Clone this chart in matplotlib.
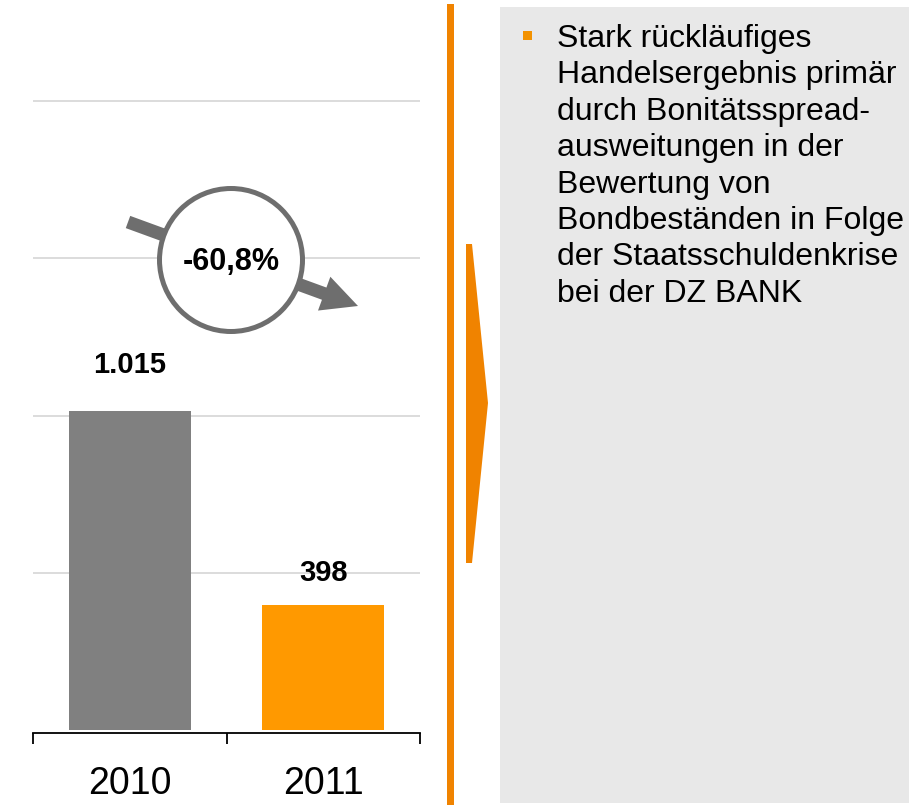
import matplotlib.pyplot as plt
from matplotlib.patches import Rectangle, Circle, Polygon, FancyArrow

plt.rcParams['font.family'] = ['Liberation Sans', 'DejaVu Sans']

# Handelsergebnis in Mio. EUR
years = ['2010', '2011']
values = [1015, 398]
bar_colors = ['#808080', '#ff9900']
label_pad = [38, 24]  # px between bar top and value label
bullet_lines = [
    'Stark rückläufiges',
    'Handelsergebnis primär',
    'durch Bonitätsspread-',
    'ausweitungen in der',
    'Bewertung von',
    'Bondbeständen in Folge',
    'der Staatsschuldenkrise',
    'bei der DZ BANK',
]

W, H = 909, 805
fig = plt.figure(figsize=(W / 100, H / 100), dpi=100)

# bar chart, placed in pixel units
px_per_unit = 0.3144
ymax = 2300
ax_left, ax_right, ax_bottom = 33, 420, 730
ax_h = ymax * px_per_unit
ax = fig.add_axes([ax_left / W, 1 - ax_bottom / H, (ax_right - ax_left) / W, ax_h / H])
x = range(len(years))
ax.bar(x, values, width=0.63, color=bar_colors, zorder=2)
ax.set_xlim(-0.5, 1.5)
ax.set_ylim(0, ymax)
for g in [500, 1000, 1500, 2000]:
    ax.axhline(g, color='#d9d9d9', lw=1.3, zorder=1)
for sp in ['top', 'right', 'left']:
    ax.spines[sp].set_visible(False)
ax.spines['bottom'].set_position(('outward', 2))
ax.spines['bottom'].set_linewidth(1.3)
ax.set_yticks([])
ax.set_xticks([-0.5, 0.5, 1.5])
ax.set_xticklabels([])
ax.tick_params(axis='x', direction='out', length=8, width=1.3)
for i, (v, pad) in enumerate(zip(values, label_pad)):
    ax.annotate(f'{v:,}'.replace(',', '.'), (i, v), xytext=(0, pad * 0.72),
                textcoords='offset points', ha='center', va='baseline',
                fontsize=21, fontweight='bold', zorder=3)
    ax.text(i, -54 / px_per_unit, years[i], ha='center', va='center', fontsize=27)

# overlay in pixel coordinates for the decorations
ov = fig.add_axes([0, 0, 1, 1], zorder=5)
ov.set_xlim(0, W)
ov.set_ylim(H, 0)
ov.axis('off')
ov.patch.set_alpha(0)

# change arrow with circle
grey = '#6e6e6e'
ov.add_patch(FancyArrow(128, 222, 230, 84, width=13, head_width=36, head_length=36,
                        length_includes_head=True, color=grey, lw=0))
ov.add_patch(Circle((231, 260), 71.5, facecolor='white', edgecolor=grey, lw=3.6))
change = (values[1] - values[0]) / values[0] * 100
ov.text(231, 262, f'{change:.1f}%'.replace('.', ','), ha='center', va='center',
        fontsize=22, fontweight='bold')

# divider and chevron
orange = '#f08300'
ov.add_patch(Rectangle((447, 4), 7, H - 4, color=orange, lw=0))
ov.add_patch(Polygon([(466, 244), (472, 244), (488, 403), (472, 563), (466, 563)],
                     closed=True, color=orange, lw=0))

# comment box
ov.add_patch(Rectangle((500, 7), W - 500, 796, color='#e8e8e8', lw=0))
ov.add_patch(Rectangle((523, 31), 9, 9, color='#f39200', lw=0))
for k, line in enumerate(bullet_lines):
    ov.text(557, 47 + 36.4 * k, line, ha='left', va='baseline', fontsize=23)

fig.savefig('out.png', dpi=100)
